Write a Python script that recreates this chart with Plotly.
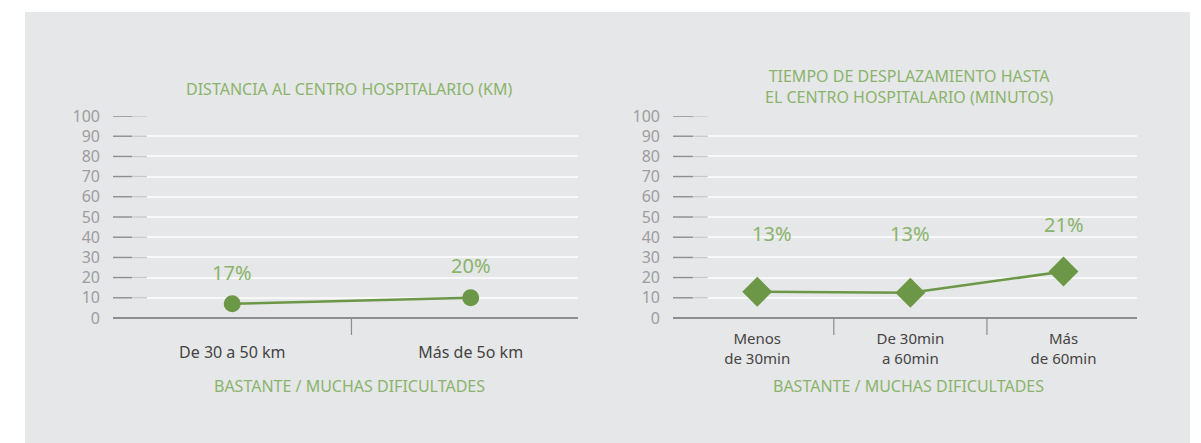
import plotly.graph_objects as go

# data
dist_categories = ["De 30 a 50 km", "Más de 5o km"]
dist_values = [7, 10]
dist_labels = ["17%", "20%"]
dist_label_y = [22.3, 26.2]

time_categories = ["Menos<br>de 30min", "De 30min<br>a 60min", "Más<br>de 60min"]
time_values = [13, 12.5, 23]
time_labels = ["13%", "13%", "21%"]
time_label_y = [42, 42, 46.5]
time_label_dx = [15, 0, 0]

y_ticks = list(range(0, 101, 10))

W, H = 1201, 443
GREEN = "#6b9746"
LABEL_GREEN = "#8ab46c"
FONT = "Noto Sans"

fig = go.Figure()

fig.add_trace(go.Scatter(
    x=list(range(len(dist_categories))), y=dist_values,
    mode="lines+markers", line=dict(color=GREEN, width=2.5),
    marker=dict(symbol="circle", size=17, color=GREEN),
    xaxis="x", yaxis="y", hoverinfo="skip", cliponaxis=False
))
fig.add_trace(go.Scatter(
    x=list(range(len(time_categories))), y=time_values,
    mode="lines+markers", line=dict(color=GREEN, width=2.5),
    marker=dict(symbol="diamond", size=23, color=GREEN),
    xaxis="x2", yaxis="y2", hoverinfo="skip", cliponaxis=False
))

y_dom = [1 - 318 / H, 1 - 116 / H]
yaxis_common = dict(
    range=[0, 100], tickvals=y_ticks, showgrid=True, gridcolor="#f8f8f8",
    gridwidth=1.5, zeroline=True, zerolinecolor="#8d8d92", zerolinewidth=1.5,
    showline=False, ticks="", ticklabelstandoff=12, automargin=False,
    tickfont=dict(family=FONT, size=16, color="#9d9da0"), fixedrange=True,
    domain=y_dom
)

fig.update_layout(
    width=W, height=H, margin=dict(l=0, r=0, t=0, b=0, autoexpand=False),
    paper_bgcolor="white", plot_bgcolor="rgba(0,0,0,0)", showlegend=False,
    xaxis=dict(domain=[113 / W, 578 / W], range=[-0.5, 1.45],
               tickvals=list(range(len(dist_categories))), ticktext=dist_categories,
               showgrid=False, zeroline=False, showline=False, ticks="",
               ticklabelstandoff=23, automargin=False,
               tickfont=dict(family=FONT, size=16, color="#444444")),
    yaxis=dict(anchor="x", **yaxis_common),
    xaxis2=dict(domain=[673 / W, 1137 / W], range=[-0.55, 2.48],
                tickvals=list(range(len(time_categories))), ticktext=time_categories,
                showgrid=False, zeroline=False, showline=False, ticks="",
                ticklabelstandoff=10, anchor="y2", automargin=False,
                tickfont=dict(family=FONT, size=15, color="#444444")),
    yaxis2=dict(anchor="x2", **yaxis_common),
)

shapes = [dict(type="rect", xref="paper", yref="paper", x0=25 / W, x1=1190 / W,
               y0=0, y1=1 - 12 / H, fillcolor="#e6e7e8", line=dict(width=0), layer="below")]

# short tick marks at the left of each grid line
for xr, yr, d1, d2 in [("x domain", "y", 0.041, 0.073), ("x2 domain", "y2", 0.043, 0.075)]:
    for v in y_ticks[1:]:
        shapes.append(dict(type="line", xref=xr, yref=yr, x0=0, x1=d1, y0=v, y1=v,
                           line=dict(color="#8d8d92", width=1.5)))
        shapes.append(dict(type="line", xref=xr, yref=yr, x0=d1, x1=d2, y0=v, y1=v,
                           line=dict(color="#c9c9cc", width=1.5)))

# separators between categories
for xr, yr, n in [("x", "y domain", len(dist_categories)), ("x2", "y2 domain", len(time_categories))]:
    for i in range(n - 1):
        shapes.append(dict(type="line", xref=xr, yref=yr, x0=i + 0.5, x1=i + 0.5,
                           y0=0, y1=-0.084, line=dict(color="#8d8d92", width=1.2)))
fig.update_layout(shapes=shapes)

ann = []
for i, (t, ly) in enumerate(zip(dist_labels, dist_label_y)):
    ann.append(dict(x=i, y=ly, xref="x", yref="y", text=t, showarrow=False,
                    font=dict(family=FONT, size=20, color=LABEL_GREEN)))
for i, (t, ly, dx) in enumerate(zip(time_labels, time_label_y, time_label_dx)):
    ann.append(dict(x=i, y=ly, xref="x2", yref="y2", text=t, showarrow=False, xshift=dx,
                    font=dict(family=FONT, size=20, color=LABEL_GREEN)))

title_font = dict(family=FONT, size=16, color=LABEL_GREEN)
for x, y, t in [(350, 89, "DISTANCIA AL CENTRO HOSPITALARIO (KM)"),
                (909, 86.5, "TIEMPO DE DESPLAZAMIENTO HASTA<br>EL CENTRO HOSPITALARIO (MINUTOS)"),
                (350, 386, "BASTANTE / MUCHAS DIFICULTADES"),
                (908, 386, "BASTANTE / MUCHAS DIFICULTADES")]:
    ann.append(dict(x=x / W, y=1 - y / H, xref="paper", yref="paper", showarrow=False,
                    xanchor="center", yanchor="middle", text=t, font=title_font))
fig.update_layout(annotations=ann)

fig.write_html("out.html", config={"displayModeBar": False},
               post_script="document.body.style.margin='0';")
